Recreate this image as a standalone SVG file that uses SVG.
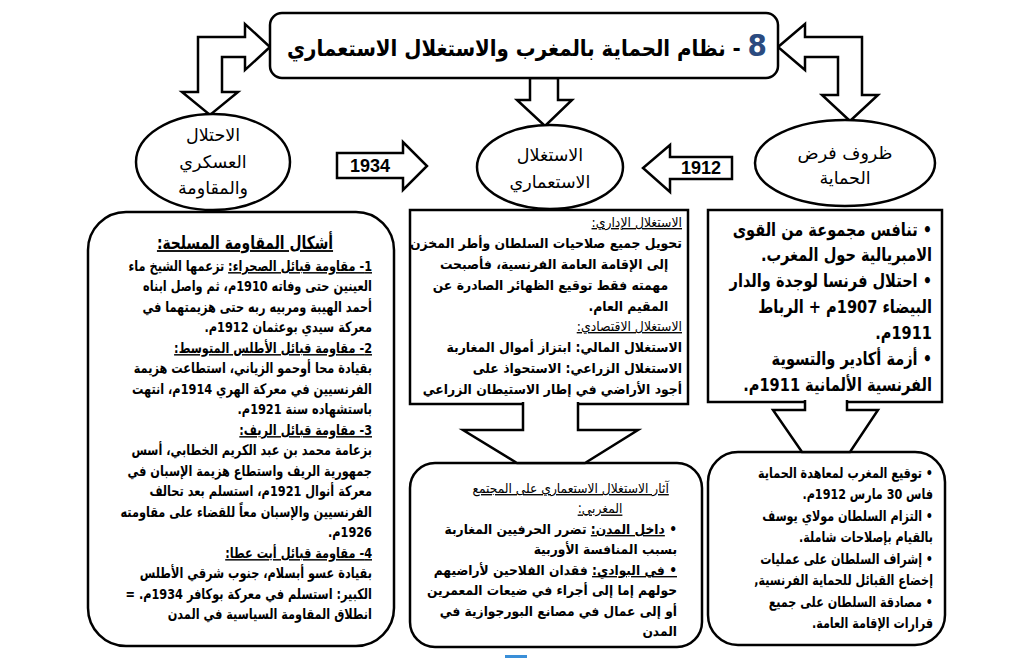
<svg xmlns="http://www.w3.org/2000/svg" width="1025" height="667" viewBox="0 0 1025 667">
<style>
.bx{fill:#fff;stroke:#000;stroke-width:2.5}
.ar{fill:#fff;stroke:#000;stroke-width:2.5;stroke-linejoin:miter}
.t{font-family:"DejaVu Sans",sans-serif;font-weight:bold;direction:rtl;unicode-bidi:embed;fill:#000}
.n{font-weight:normal}
.r{text-anchor:start}
.c{text-anchor:middle}
.u{text-decoration:underline}
.num{font-family:"Liberation Sans",sans-serif;font-weight:bold;font-size:18px;text-anchor:middle}
.s15{font-size:14.5px}
.s14{font-size:13.5px}
.s19{font-size:18px}
.s17{font-size:17.5px}
</style>
<rect width="1025" height="667" fill="#fff"/>

<g id="connectors">
<polygon class="ar" points="270,47 245,70 245,57 222,57 222,92 238,92 210,115 182,92 198,92 198,37 245,37 245,24"/>
<polygon class="ar" points="778,47 805,24 805,37 862,37 862,95 878,95 850,121 822,95 838,95 838,57 805,57 805,70"/>
<polygon class="ar" points="530,78 558,78 558,100 572,100 545,126 517,100 530,100"/>
<g id="arrow-1934"><polygon class="ar" points="337,153 403,153 403,142 427,166 403,190 403,178 337,178"/><text class="num" x="370" y="172">1934</text></g>
<g id="arrow-1912"><polygon class="ar" points="732,157 670,157 670,145 643,168 670,192 670,179 732,179"/><text class="num" x="701" y="174">1912</text></g>
</g>

<g id="title">
<rect class="bx" x="270" y="13" width="508" height="65" rx="12"/>
<g transform="matrix(0.9,0,0,1,52.7,0)">
<text class="t c" x="527" y="56" font-size="22"><tspan fill="#2b4b80" font-size="31">8</tspan> - نظام الحماية بالمغرب والاستغلال الاستعماري</text>
</g>
</g>

<g id="left-box">
<rect class="bx" x="88" y="212" width="306" height="434" rx="38"/>
<g transform="matrix(0.77,0,0,1,56.35,0)">
<text class="t c u s19" x="245" y="249">أشكال المقاومة المسلحة:</text>
</g>
<g class="t r s15" transform="matrix(0.78,0,0,1,81.84,0)">
<text x="372" y="271"><tspan class="u">1- مقاومة قبائل الصحراء:</tspan> تزعمها الشيخ ماء</text>
<text x="372" y="291.5">العينين حتى وفاته  1910م، ثم واصل ابناه</text>
<text x="372" y="312">أحمد الهيبة ومربيه ربه حتى هزيمتهما في</text>
<text x="372" y="332.5">معركة سيدي بوعثمان 1912م.</text>
<text x="372" y="353" class="u">2- مقاومة قبائل الأطلس المتوسط:</text>
<text x="372" y="373.5">بقيادة محا أوحمو الزياني، استطاعت هزيمة</text>
<text x="372" y="394">الفرنسيين في معركة الهري 1914م، انتهت</text>
<text x="372" y="414.5">باستشهاده سنة 1921م.</text>
<text x="372" y="435" class="u">3- مقاومة قبائل الريف:</text>
<text x="372" y="455.5">بزعامة محمد بن عبد الكريم الخطابي، أسس</text>
<text x="372" y="476">جمهورية الريف واستطاع هزيمة الإسبان في</text>
<text x="372" y="496.5">معركة أنوال 1921م، استسلم  بعد تحالف</text>
<text x="372" y="517">الفرنسيين والإسبان معاً للقضاء على مقاومته</text>
<text x="372" y="537.5">1926م.</text>
<text x="372" y="558" class="u">4- مقاومة قبائل أيت عطا:</text>
<text x="372" y="578.5">بقيادة عسو أبسلام، جنوب شرقي الأطلس</text>
<text x="372" y="599">الكبير:  استسلم في معركة بوكافر 1934م. =</text>
<text x="372" y="619.5">انطلاق المقاومة السياسية في المدن</text>
</g>
</g>

<g id="middle-top-box">
<rect class="bx" x="410" y="210" width="278" height="194"/>
<g class="t r s14" transform="matrix(0.92,0,0,1,54.56,0)">
<text x="682" y="227" class="u n">الاستغلال الإداري:</text>
<text x="682" y="248">تحويل جميع صلاحيات السلطان  وأطر المخزن</text>
<text x="667" y="269">إلى الإقامة العامة الفرنسية، فأصبحت</text>
<text x="667" y="290">مهمته فقط توقيع الظهائر الصادرة عن</text>
<text x="667" y="311">المقيم العام.</text>
<text x="682" y="331" class="u n">الاستغلال الاقتصادي:</text>
<text x="682" y="352">الاستغلال المالي: ابتزاز  أموال المغاربة</text>
<text x="682" y="373">الاستغلال الزراعي: الاستحواذ على</text>
<text x="682" y="394">أجود الأراضي في إطار الاستيطان الزراعي</text>
</g>
</g>

<g id="middle-bottom-box">
<rect class="bx" x="410" y="463" width="292" height="184" rx="25"/>
<g class="t r s14" transform="matrix(0.91,0,0,1,60.93,0)">
<text x="668" y="493" class="u n">آثار الاستغلال الاستعماري على المجتمع</text>
<text x="617" y="513.5" class="u n">المغربي:</text>
<text x="677" y="534">• <tspan class="u">داخل المدن:</tspan> تضرر الحرفيين المغاربة</text>
<text x="677" y="554.5">بسبب المنافسة الأوربية</text>
<text x="677" y="575"><tspan class="u">• في البوادي:</tspan> فقدان الفلاحين لأراضيهم</text>
<text x="677" y="595.5">حولهم إما إلى أجراء في ضيعات المعمرين</text>
<text x="677" y="616">أو إلى عمال في مصانع البورجوازية في</text>
<text x="677" y="636.5">المدن</text>
</g>
</g>

<g id="right-top-box">
<rect class="bx" x="708" y="210" width="234" height="192"/>
<g class="t r s19" transform="matrix(0.81,0,0,1,177.08,0)">
<text x="932" y="236">• تنافس مجموعة من القوى</text>
<text x="932" y="261">الامبريالية حول المغرب.</text>
<text x="932" y="287">• احتلال فرنسا لوجدة والدار</text>
<text x="932" y="313">البيضاء 1907م + الرباط</text>
<text x="932" y="339">1911م.</text>
<text x="932" y="365">• أزمة أكادير والتسوية</text>
<text x="932" y="391">الفرنسية الألمانية 1911م.</text>
</g>
</g>

<g id="right-bottom-box">
<rect class="bx" x="708" y="452" width="237" height="193" rx="30"/>
<g class="t r s15" transform="matrix(0.77,0,0,1,214.59,0)">
<text x="933" y="478">• توقيع المغرب لمعاهدة الحماية</text>
<text x="933" y="499.5">فاس 30 مارس 1912م.</text>
<text x="933" y="521">• التزام السلطان مولاي يوسف</text>
<text x="933" y="542.5">بالقيام بإصلاحات شاملة.</text>
<text x="933" y="564">• إشراف السلطان على عمليات</text>
<text x="933" y="585.5">إخضاع القبائل للحماية الفرنسية,</text>
<text x="933" y="607">• مصادقة السلطان على جميع</text>
<text x="933" y="628.5">قرارات الإقامة العامة.</text>
</g>
</g>

<g id="box-arrows">
<path class="ar" d="M523,402 V430 H463 L517,463 H585 L638,430 H578 V402"/>
<path class="ar" d="M805,400 V410 H773 L802,452 H850 L878,410 H847 V400"/>
</g>

<g id="ellipse-left">
<ellipse class="bx" cx="213" cy="162" rx="77" ry="48"/>
<text class="t c n s17" x="213" y="141">الاحتلال</text>
<text class="t c n s17" x="213" y="168">العسكري</text>
<text class="t c n s17" x="213" y="194">والمقاومة</text>
</g>
<g id="ellipse-middle">
<ellipse class="bx" cx="550" cy="167" rx="73" ry="42"/>
<text class="t c n s17" x="550" y="161">الاستغلال</text>
<text class="t c n s17" x="550" y="188">الاستعماري</text>
</g>
<g id="ellipse-right">
<ellipse class="bx" cx="845" cy="163" rx="90" ry="43"/>
<text class="t c n s17" x="845" y="159">ظروف فرض</text>
<text class="t c n s17" x="845" y="184">الحماية</text>
</g>
<rect x="505" y="655" width="22" height="3" fill="#3a8fd8"/>
</svg>
